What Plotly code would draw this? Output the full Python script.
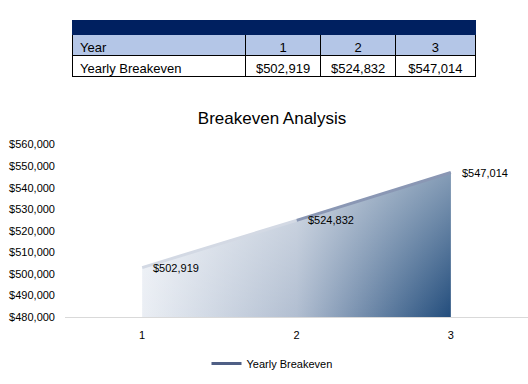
import plotly.graph_objects as go

# ---- data ----
years = [1, 2, 3]
breakeven = [502919, 524832, 547014]
row_labels = ["Year", "Yearly Breakeven"]
title_text = "Breakeven Analysis"
series_name = "Yearly Breakeven"
y_ticks = [480000, 490000, 500000, 510000, 520000, 530000, 540000, 550000, 560000]

W, H = 528, 384
FONT = "Liberation Sans"

def money(v):
    return "${:,.0f}".format(v)

fig = go.Figure()

# ---- table ----
col_vals = [row_labels] + [[str(y), money(v)] for y, v in zip(years, breakeven)]
fig.add_trace(go.Table(
    domain=dict(x=[72 / W, 475 / W], y=[1 - 80 / H, 1 - 15 / H]),
    columnwidth=[173, 75, 75, 79],
    header=dict(values=["", "", "", ""], fill_color="#002060",
                line=dict(color="#002060", width=1), height=14,
                font=dict(size=6)),
    cells=dict(values=col_vals,
               fill_color=[["#B4C6E7", "#FFFFFF"]] * 4,
               line=dict(color="#000000", width=1),
               align=["left", "center", "center", "center"],
               font=dict(family=FONT, size=13, color="#000000"),
               height=21),
))

# ---- area with gradient ----
fig.add_trace(go.Scatter(
    x=years, y=breakeven, mode="none", fill="tozeroy",
    fillgradient=dict(type="horizontal", start=years[0], stop=years[-1],
                      colorscale=[[0, "#eaeef4"], [0.5, "#b0bdd0"], [1, "#1f4a7a"]]),
    showlegend=False, hoverinfo="skip"))
fig.add_trace(go.Scatter(
    x=years, y=breakeven, mode="none", fill="tozeroy",
    fillgradient=dict(type="vertical", start=y_ticks[0], stop=breakeven[-1],
                      colorscale=[[0, "rgba(255,255,255,0)"], [1, "rgba(255,255,255,0.45)"]]),
    showlegend=False, hoverinfo="skip"))

# top edge line, lighter to darker
seg_colors = ["#d3d9e4", "#8a97b4"]
for i in reversed(range(len(years) - 1)):
    fig.add_trace(go.Scatter(
        x=years[i:i + 2], y=breakeven[i:i + 2], mode="lines",
        line=dict(color=seg_colors[i], width=3),
        showlegend=False, hoverinfo="skip"))

# data labels
for xv, yv in zip(years, breakeven):
    fig.add_annotation(x=xv, y=yv, text=money(yv), showarrow=False,
                       xanchor="left", yanchor="middle", xshift=9,
                       font=dict(family=FONT, size=11, color="#000000"))

# legend entry
fig.add_trace(go.Scatter(
    x=[None], y=[None], mode="lines", name=series_name,
    line=dict(color="#4f5f85", width=3)))

fig.update_layout(
    width=W, height=H,
    margin=dict(l=0, r=0, t=0, b=0),
    paper_bgcolor="white", plot_bgcolor="white",
    font=dict(family=FONT, size=11, color="#000000"),
    title=dict(text=title_text, x=272 / W, xanchor="center",
               y=1 - 118 / H, yanchor="middle",
               font=dict(family=FONT, size=17, color="#000000")),
    xaxis=dict(domain=[65 / W, 1.0], range=[0.5, 3.5], tickvals=years,
               ticktext=[str(y) for y in years], showgrid=False, zeroline=False,
               showline=True, linecolor="#d9d9d9", linewidth=1, ticks="",
               ticklabelstandoff=8,
               tickfont=dict(family=FONT, size=11, color="#000000")),
    yaxis=dict(domain=[1 - 321 / H, 1 - 143 / H], range=[y_ticks[0], y_ticks[-1]],
               tickvals=y_ticks, ticktext=[money(v) for v in y_ticks],
               showgrid=False, zeroline=False, showline=False, ticks="",
               ticklabelstandoff=9,
               tickfont=dict(family=FONT, size=11, color="#000000")),
    legend=dict(orientation="h", x=272 / W, xanchor="center",
                y=1 - 369 / H, yanchor="middle",
                font=dict(family=FONT, size=11, color="#000000")),
    showlegend=True,
)

fig.write_html("out.html", config={"responsive": False, "displayModeBar": False},
               post_script="document.body.style.margin='0';document.body.style.overflow='hidden';")
